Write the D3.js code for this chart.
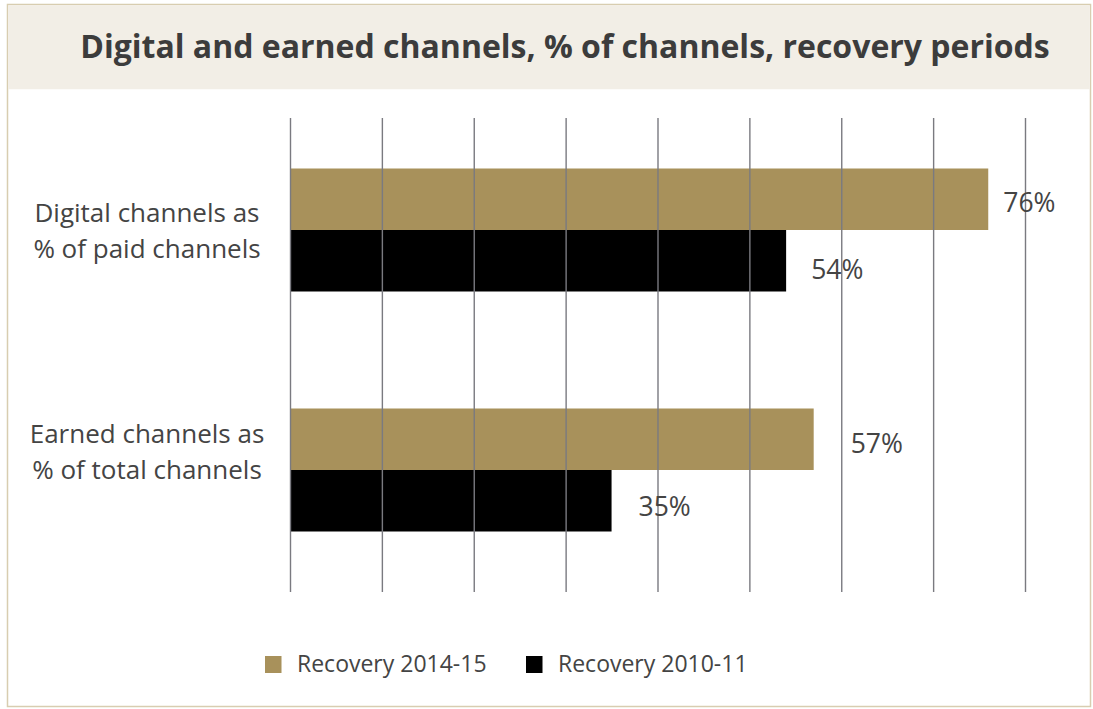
<!DOCTYPE html>
<html>
<head>
<meta charset="utf-8">
<script src="https://cdn.jsdelivr.net/npm/d3@7/dist/d3.min.js"></script>
<style>
  html, body { margin: 0; padding: 0; background: #fff; }
  svg { display: block; font-family: "Open Sans", sans-serif; }
</style>
</head>
<body>
<svg id="chart" width="1093" height="709"></svg>
<script>
// Chart data
const title = "Digital and earned channels, % of channels, recovery periods";
const categories = [
  ["Digital channels as", "% of paid channels"],
  ["Earned channels as", "% of total channels"]
];
const seriesNames = ["Recovery 2014-15", "Recovery 2010-11"];
const recovery2014 = [76, 57];
const recovery2010 = [54, 35];
const xTicks = [0, 10, 20, 30, 40, 50, 60, 70, 80];
const seriesColors = ["#a8915b", "#000000"];

// Label placement tweaks (pixels): [series][category]
const labelDx = [[15, 37], [25, 27]];
const labelDy = [[12.5, 13.5], [18, 15]];
const categoryDy = [1, -18];

const svg = d3.select("#chart");

// Frame and title band
svg.append("rect").attr("x", 7.5).attr("y", 4.5).attr("width", 1083).attr("height", 702)
  .attr("fill", "#fff").attr("stroke", "#d8cdb0").attr("stroke-width", 1.5);
svg.append("rect").attr("x", 8.25).attr("y", 5.25).attr("width", 1081.5).attr("height", 84)
  .attr("fill", "#f2eee6");
svg.append("text").attr("x", 565).attr("y", 58).attr("text-anchor", "middle")
  .attr("font-size", 32).attr("font-weight", 700).attr("fill", "#3c3c3c")
  .text(title);

// Scales
const x = d3.scaleLinear().domain([0, 80]).range([290, 1025]);
const y = d3.scaleBand().domain(d3.range(categories.length)).range([110, 590])
  .paddingInner(0.4875).paddingOuter(0.24375);
const ySub = d3.scaleBand().domain(d3.range(seriesNames.length)).range([0, y.bandwidth()]);

const gridTop = 118, gridBottom = 592;

// Vertical gridlines
const grid = svg.append("g").attr("transform", `translate(0,${gridBottom})`)
  .call(d3.axisBottom(x).tickValues(xTicks).tickSize(-(gridBottom - gridTop)).tickFormat(""));
grid.select(".domain").remove();
grid.selectAll(".tick line").attr("stroke", "#7a7a80").attr("stroke-width", 1.4);

// Bars
const series = [recovery2014, recovery2010];
series.forEach((vals, s) => {
  svg.append("g").selectAll("rect").data(vals).join("rect")
    .attr("x", x(0))
    .attr("y", (d, i) => y(i) + ySub(s))
    .attr("width", d => x(d) - x(0))
    .attr("height", ySub.bandwidth())
    .attr("fill", seriesColors[s]);
});

// Value labels, drawn over the gridlines
grid.raise();
series.forEach((vals, s) => {
  svg.append("g").selectAll("text").data(vals).join("text")
    .attr("x", (d, i) => x(d) + labelDx[s][i])
    .attr("y", (d, i) => y(i) + ySub(s) + ySub.bandwidth() / 2 + labelDy[s][i])
    .attr("font-size", 26.5).attr("fill", "#444")
    .text(d => d + "%");
});

// Category labels
const cat = svg.append("g").selectAll("text").data(categories).join("text")
  .attr("text-anchor", "middle").attr("font-size", 26).attr("fill", "#444")
  .attr("transform", (d, i) => `translate(147,${y(i) + y.bandwidth() / 2 + categoryDy[i]})`);
cat.selectAll("tspan").data(d => d).join("tspan")
  .attr("x", 0).attr("y", (d, j) => j === 0 ? -9 : 27)
  .text(d => d);

// Legend
const legend = svg.append("g");
const legendX = [265, 526];
seriesNames.forEach((name, s) => {
  const g = legend.append("g").attr("transform", `translate(${legendX[s]},656)`);
  g.append("rect").attr("width", 16.5).attr("height", 17).attr("fill", seriesColors[s]);
  g.append("text").attr("x", 32).attr("y", 16).attr("font-size", 23).attr("fill", "#444").text(name);
});
</script>
</body>
</html>
